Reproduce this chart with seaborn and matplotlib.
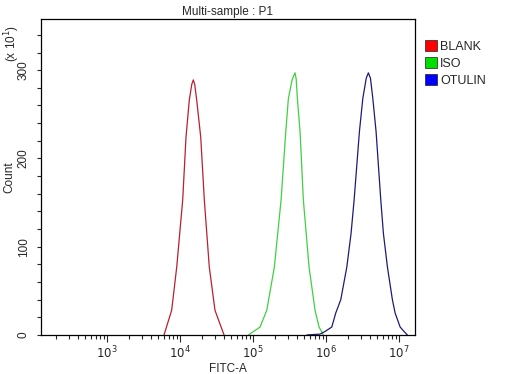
import pandas as pd
import numpy as np
import seaborn as sns
import matplotlib.pyplot as plt
from matplotlib.patches import Patch
from matplotlib.ticker import LogLocator, MultipleLocator, NullFormatter


# histogram outlines (FITC-A value, count x10)
blank_x = [6040, 7690, 9020, 10890, 12080, 13400, 14500, 15200, 15900, 16940, 19230, 21530,
           25180, 30130, 40090]
blank_y = [0, 28, 77, 153, 224, 266, 284, 289, 284, 266, 224, 153, 77, 28, 0]

iso_x = [86300, 124700, 154200, 195900, 242100, 280500, 304800, 345000, 375800, 390000,
         404600, 440600, 488700, 584800, 706300, 801700, 918300]
iso_y = [0, 9, 28, 77, 153, 230, 268, 290, 297, 290, 268, 230, 153, 77, 28, 9, 0]

otulin_x = [544500, 827900, 968300, 1.197e6, 1.358e6, 1.589e6, 1.923e6, 2.198e6, 2.421e6,
            2.858e6, 3.184e6, 3.55e6, 3.793e6, 4.05e6, 4.365e6, 4.842e6, 5.610e6, 6.095e6,
            6.918e6, 8.091e6, 8.810e6, 1.033e7, 1.169e7, 1.300e7]
otulin_y = [0, 1, 4, 9, 25, 40, 77, 115, 153, 230, 268, 291, 297, 291, 268, 230, 153, 115,
            77, 40, 25, 9, 4, 0]

samples = ['BLANK', 'ISO', 'OTULIN']
line_colors = ['#b82030', '#40d040', '#1c1c78']
legend_colors = ['#ff0000', '#00e000', '#0000ff']

df = pd.concat([
    pd.DataFrame({'fitc': blank_x, 'count': blank_y, 'sample': 'BLANK'}),
    pd.DataFrame({'fitc': iso_x, 'count': iso_y, 'sample': 'ISO'}),
    pd.DataFrame({'fitc': otulin_x, 'count': otulin_y, 'sample': 'OTULIN'}),
])

sns.set_style('ticks')
plt.rcParams['font.family'] = ['Liberation Sans', 'DejaVu Sans']

fig = plt.figure(figsize=(5.17, 3.74), dpi=100)
ax = fig.add_axes([0.0793, 0.1043, 0.7234, 0.8449])

sns.lineplot(data=df, x='fitc', y='count', hue='sample', palette=line_colors,
             sort=False, estimator=None, legend=False, linewidth=0.9, ax=ax)

ax.set_xscale('log')
ax.set_xlim(125, 1.65e7)
ax.set_ylim(0, 358)
ax.xaxis.set_major_locator(LogLocator(base=10, numticks=20))
ax.xaxis.set_minor_locator(LogLocator(base=10, subs=np.arange(2, 10), numticks=20))
ax.xaxis.set_minor_formatter(NullFormatter())
ax.set_xticks([1e3, 1e4, 1e5, 1e6, 1e7])
ax.set_xticklabels(['$10^3$', '$10^4$', '$10^5$', '$10^6$', '$10^7$'])
ax.yaxis.set_major_locator(MultipleLocator(100))
ax.yaxis.set_minor_locator(MultipleLocator(20))

ax.tick_params(axis='x', which='major', length=5, width=0.8, labelsize=8.5, pad=2)
ax.tick_params(axis='x', which='minor', length=3, width=0.8)
ax.tick_params(axis='y', which='both', length=3, width=0.8, labelsize=8.5, pad=5)
for lab in ax.get_yticklabels():
    lab.set_rotation(90)
    lab.set_va('center')

for s in ax.spines.values():
    s.set_linewidth(0.9)
    s.set_color('black')

ax.set_xlabel('FITC-A', fontsize=8.5, labelpad=1)
ax.set_ylabel('Count', fontsize=8.5, labelpad=2)
ax.set_title('Multi-sample : P1', fontsize=8.5, pad=3)
fig.text(0.024, 0.885, '(x 10$^1$)', rotation=90, fontsize=8.5, ha='center', va='center')

handles = [Patch(facecolor=c, edgecolor='#202020', linewidth=0.5) for c in legend_colors]
fig.legend(handles, samples, loc='upper left', bbox_to_anchor=(0.81, 0.91),
           frameon=False, fontsize=9, handlelength=0.95, handleheight=0.95,
           handletextpad=0.25, labelspacing=0.35, borderpad=0)

plt.savefig('out.png', dpi=100)
